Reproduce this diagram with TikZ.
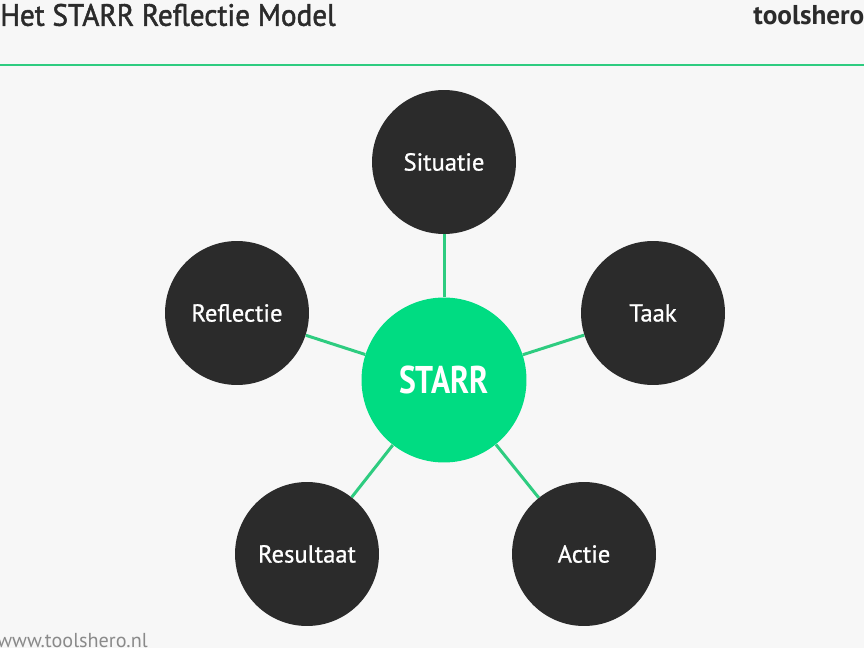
\documentclass[tikz,border=0pt]{standalone}
\usepackage{fontspec}
\setmainfont{PT Sans}
\newfontfamily\mediumfont[FakeBold=0.8]{PT Sans}
\newfontfamily\headfont[FakeBold=1.6,FakeStretch=0.95]{PT Sans}
\newfontfamily\condfont[FakeStretch=0.82]{PT Sans}
\definecolor{bggray}{HTML}{F7F7F7}
\definecolor{starrgreen}{HTML}{00DC82}
\definecolor{linegreen}{HTML}{2ECC80}
\definecolor{darkcircle}{HTML}{2B2B2B}
\definecolor{urlgray}{HTML}{8A8A8A}
\begin{document}
\begin{tikzpicture}[
        x=0.02cm, y=-0.02cm,
        phase/.style={circle, fill=darkcircle, minimum size=2.88cm, inner sep=0pt, text=white, font=\mediumfont\fontsize{14}{16}\selectfont},
        core/.style={circle, fill=starrgreen, minimum size=3.3cm, inner sep=0pt, text=white, font=\condfont\fontsize{22}{24}\selectfont\bfseries},
        link/.style={draw=linegreen, line width=1.7pt}
    ]
    
    % Background and frame
    \fill[bggray] (0,0) rectangle (864,648);
    \useasboundingbox (0,0) rectangle (864,648);
    
    % Header
    \node[anchor=west, inner sep=0pt, font=\headfont\fontsize{17.5}{19}\selectfont, text=darkcircle] (title) at (0,15) {Het STARR Reflectie Model};
    \node[anchor=west, inner sep=0pt, font=\fontsize{15.5}{17}\selectfont\bfseries, text=darkcircle] (brand) at (753,15) {toolshero};
    \coordinate (ruleleft) at (0,65);
    \coordinate (ruleright) at (864,65);
    \draw[draw=linegreen, line width=1.3pt] (ruleleft) -- (ruleright);
    
    % Core
    \node[core] (starr) at (444,380) {STARR};
    
    % Phases
    \node[phase] (situatie) at (444,162) {Situatie};
    \node[phase] (taak) at (653,313) {Taak};
    \node[phase] (actie) at (584,554) {Actie};
    \node[phase] (resultaat) at (307,554) {Resultaat};
    \node[phase] (reflectie) at (237,313) {Reflectie};
    
    % Connections
    \draw[link] (starr) -- (situatie);
    \draw[link] (starr) -- (taak);
    \draw[link] (starr) -- (actie);
    \draw[link] (starr) -- (resultaat);
    \draw[link] (starr) -- (reflectie);
    
    % Footer
    \node[anchor=west, inner sep=0pt, font=\fontsize{11.5}{13}\selectfont, text=urlgray] (url) at (-3,641) {www.toolshero.nl};
    
    \end{tikzpicture}
\end{document}
